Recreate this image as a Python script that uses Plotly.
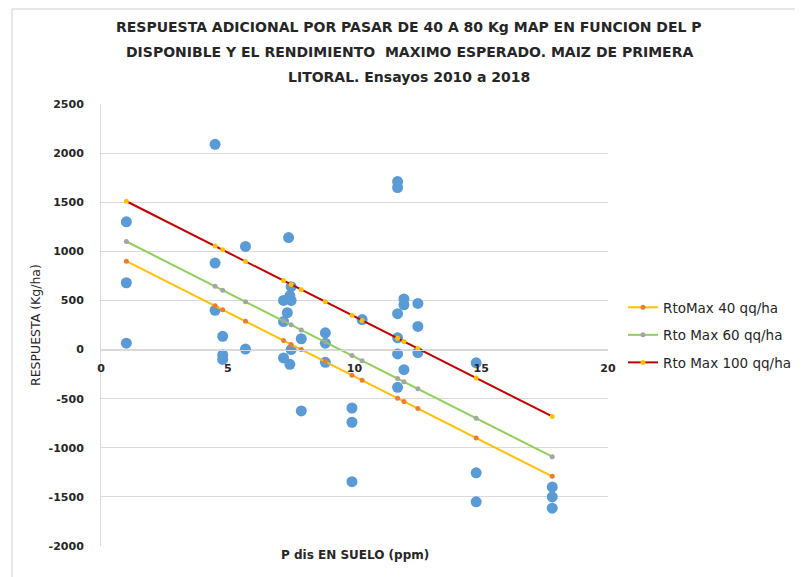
import plotly.graph_objects as go

# Observed trials: P available in soil (ppm) vs additional response (kg/ha)
p_obs = [1.0, 1.0, 1.0,
         4.5, 4.5, 4.5, 4.8, 4.8, 4.8,
         5.7, 5.7,
         7.4, 7.5, 7.2, 7.5, 7.45, 7.35, 7.2, 7.9, 7.5, 7.2, 7.45, 7.9,
         8.85, 8.85, 8.85,
         9.9, 9.9, 9.9,
         10.3,
         11.7, 11.7, 11.95, 11.95, 12.5, 11.7, 12.5, 11.7, 11.7, 12.5, 11.95, 11.7,
         14.8, 14.8, 14.8,
         17.8, 17.8, 17.8]
resp_obs = [1300, 680, 65,
            2090, 880, 400, 135, -55, -100,
            1050, 5,
            1140, 640, 500, 500, 550, 375, 285, 110, 0, -85, -150, -625,
            170, 65, -130,
            -595, -740, -1345,
            305,
            1710, 1650, 515, 455, 470, 365, 235, 120, -45, -30, -205, -385,
            -135, -1255, -1550,
            -1400, -1500, -1615]

# Model lines evaluated at each P level
p_line = [1.0, 4.5, 4.8, 5.7, 7.2, 7.5, 7.9, 8.85, 9.9, 10.3, 11.7, 11.95, 12.5, 14.8, 17.8]
rto40 = [900, 445, 405, 287, 92, 52, 0, -124, -261, -313, -495, -528, -600, -900, -1291]
rto60 = [1100, 645, 605, 487, 292, 252, 200, 76, -61, -113, -295, -328, -400, -700, -1091]
rto100 = [1510, 1055, 1015, 897, 702, 662, 610, 486, 349, 297, 115, 82, 10, -290, -681]

x_ticks = [0, 5, 10, 15, 20]
y_ticks = [-2000, -1500, -1000, -500, 0, 500, 1000, 1500, 2000, 2500]

title_lines = ["RESPUESTA ADICIONAL POR PASAR DE 40 A 80 Kg MAP EN FUNCION DEL P",
               "DISPONIBLE Y EL RENDIMIENTO  MAXIMO ESPERADO. MAIZ DE PRIMERA",
               "LITORAL. Ensayos 2010 a 2018"]

FONT = "DejaVu Sans, Liberation Sans, Arial, sans-serif"
TXT = "#262626"

fig = go.Figure()
fig.add_trace(go.Scatter(x=p_obs, y=resp_obs, mode="markers", showlegend=False,
                         marker=dict(color="#5B9BD5", size=11), hoverinfo="x+y"))
fig.add_trace(go.Scatter(x=p_line, y=rto40, mode="lines+markers", name="RtoMax 40 qq/ha",
                         legendgroup="a",
                         line=dict(color="#FFC000", width=2),
                         marker=dict(color="#ED7D31", size=5)))
fig.add_trace(go.Scatter(x=p_line, y=rto60, mode="lines+markers", name="Rto Max 60 qq/ha",
                         legendgroup="b",
                         line=dict(color="#8FCF5A", width=2),
                         marker=dict(color="#A5A5A5", size=5)))
fig.add_trace(go.Scatter(x=p_line, y=rto100, mode="lines+markers", name="Rto Max 100 qq/ha",
                         legendgroup="c",
                         line=dict(color="#C00000", width=2),
                         marker=dict(color="#FFC000", size=5)))

# page offset (body margin) compensation
O = 8
W, H = 795, 569
# plot area in screen pixels: left 101, right 608, top 104, bottom 546
L = 101 - O
T = 104 - O
R = W - (608 - O)
B = H - (546 - O)
pw, ph = W - L - R, H - T - B

def px_x(sx):
    return (sx - O - L) / pw

def px_y(sy):
    return (H - B - (sy - O)) / ph

annotations = []
for txt, yy in zip(title_lines, [27, 52, 77]):
    annotations.append(dict(text=txt, xref="paper", yref="paper", x=px_x(409), y=px_y(yy),
                            xanchor="center", yanchor="middle", showarrow=False,
                            font=dict(family=FONT, size=14, color=TXT, weight="bold")))
annotations.append(dict(text="P dis EN SUELO (ppm)", xref="paper", yref="paper",
                        x=px_x(355), y=px_y(555), xanchor="center", yanchor="middle",
                        showarrow=False,
                        font=dict(family=FONT, size=12, color=TXT, weight="bold")))
annotations.append(dict(text="RESPUESTA (Kg/ha)", xref="paper", yref="paper",
                        x=px_x(35), y=px_y(325), xanchor="center", yanchor="middle",
                        textangle=-90, showarrow=False,
                        font=dict(family=FONT, size=12.5, color=TXT)))

fig.update_layout(
    width=W, height=H,
    margin=dict(l=L, r=R, t=T, b=B, autoexpand=False),
    paper_bgcolor="white", plot_bgcolor="white",
    showlegend=True,
    legend=dict(x=px_x(623), y=px_y(292), xanchor="left", yanchor="top",
                traceorder="grouped", tracegroupgap=7, itemwidth=30,
                font=dict(family=FONT, size=13.5, color=TXT),
                bgcolor="rgba(0,0,0,0)"),
    annotations=annotations,
    shapes=[dict(type="rect", xref="paper", yref="paper",
                 x0=px_x(12), x1=px_x(797), y0=px_y(600), y1=px_y(9),
                 line=dict(color="#D0D0D0", width=1), fillcolor="rgba(0,0,0,0)", layer="above")],
    xaxis=dict(range=[0, 20], tickvals=x_ticks, ticktext=[str(v) for v in x_ticks],
               showgrid=False, zeroline=False,
               showline=True, linecolor="#D9D9D9", linewidth=1,
               anchor="free", position=2000 / 4500,
               ticks="", ticklabelstandoff=8,
               tickfont=dict(family=FONT, size=11, color=TXT, weight="bold")),
    yaxis=dict(range=[-2000, 2500], tickvals=y_ticks, ticktext=[str(v) for v in y_ticks],
               showgrid=True, gridcolor="#D9D9D9", gridwidth=1, zeroline=False,
               showline=True, linecolor="#D9D9D9", linewidth=1,
               ticks="", ticklabelstandoff=14,
               tickfont=dict(family=FONT, size=11, color=TXT, weight="bold")),
)

fig.write_html("out.html")
